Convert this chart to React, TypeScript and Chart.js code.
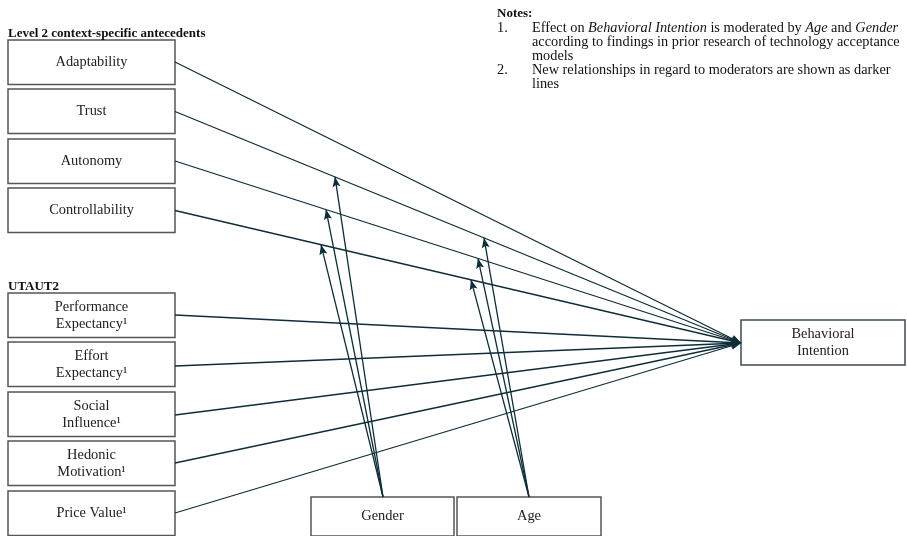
import React, { useEffect, useRef } from "react";
import { Chart, registerables } from "chart.js";

Chart.register(...registerables);

// ---- Content ----
const antecedentLabels: string[][] = [["Adaptability"], ["Trust"], ["Autonomy"], ["Controllability"]];
const utautLabels: string[][] = [
  ["Performance", "Expectancy¹"],
  ["Effort", "Expectancy¹"],
  ["Social", "Influence¹"],
  ["Hedonic", "Motivation¹"],
  ["Price Value¹"],
];
const outcomeLabel: string[] = ["Behavioral", "Intention"];
const moderatorLabels: string[] = ["Gender", "Age"];
const groupHeaders: string[] = ["Level 2 context-specific antecedents", "UTAUT2"];

// ---- Layout in diagram units (907 x 536 space, y downward) ----
const leftBoxX: number[] = [8, 175];
const antecedentTops: number[] = [40, 89, 139, 188];
const utautTops: number[] = [293, 342, 392, 441, 491];
const boxH = 44.5;
const antecedentLineY: number[] = [62, 111.5, 161, 210.5];
const utautLineY: number[] = [315, 366, 415, 463, 513];
const outcomeBox: number[] = [741, 320, 905, 365];
const outcomeTip: number[] = [741, 343];
const moderatorBoxX: number[][] = [[311, 454], [457, 601]];
const moderatorTop = 497;
const moderatorOrigins: number[][] = [[383, 497], [529, 497]];
// which antecedent paths are moderated, and x where arrows hit them
const moderatedPaths: number[] = [1, 2, 3];
const genderHitX: number[] = [335, 326, 321];
const ageHitX: number[] = [484, 478, 471];

const LINE = "#0e2d38";
const BOX = "#555555";
const FONT = "'Liberation Serif', 'Times New Roman', serif";

function pathY(i: number, x: number): number {
  const y0 = antecedentLineY[i];
  const x0 = leftBoxX[1];
  return y0 + ((x - x0) / (outcomeTip[0] - x0)) * (outcomeTip[1] - y0);
}

export default function App() {
  const ref = useRef<HTMLCanvasElement | null>(null);

  useEffect(() => {
    document.body.style.margin = "0";
    const canvas = ref.current;
    if (!canvas) return;

    const datasets: any[] = [];
    antecedentLineY.forEach((y) =>
      datasets.push({ data: [{ x: leftBoxX[1], y }, { x: outcomeTip[0], y: outcomeTip[1] }], arrow: true })
    );
    utautLineY.forEach((y) =>
      datasets.push({ data: [{ x: leftBoxX[1], y }, { x: outcomeTip[0], y: outcomeTip[1] }], arrow: true })
    );
    [genderHitX, ageHitX].forEach((hits, m) =>
      hits.forEach((hx, k) =>
        datasets.push({
          data: [
            { x: moderatorOrigins[m][0], y: moderatorOrigins[m][1] },
            { x: hx, y: pathY(moderatedPaths[k], hx) },
          ],
          arrow: true,
        })
      )
    );
    datasets.forEach((d) => {
      d.showLine = true;
      d.borderColor = LINE;
      d.borderWidth = 1.3;
      d.pointRadius = 0;
      d.clip = false;
    });

    const diagram = {
      id: "diagram",
      beforeDatasetsDraw(chart: any) {
        const ctx = chart.ctx;
        const xs = chart.scales.x;
        const ys = chart.scales.y;
        const px = (v: number) => xs.getPixelForValue(v);
        const py = (v: number) => ys.getPixelForValue(v);
        const box = (x0: number, y0: number, x1: number, y1: number, lines: string[], color = BOX) => {
          ctx.save();
          ctx.fillStyle = "#fff";
          ctx.strokeStyle = color;
          ctx.lineWidth = 1.5;
          ctx.fillRect(px(x0), py(y0), px(x1) - px(x0), py(y1) - py(y0));
          ctx.strokeRect(px(x0), py(y0), px(x1) - px(x0), py(y1) - py(y0));
          ctx.fillStyle = "#222";
          ctx.font = `14.4px ${FONT}`;
          ctx.textAlign = "center";
          ctx.textBaseline = "middle";
          const cx = (px(x0) + px(x1)) / 2;
          const cy = (py(y0) + py(y1)) / 2;
          const lh = 17;
          lines.forEach((t, i) => ctx.fillText(t, cx, cy + (i - (lines.length - 1) / 2) * lh));
          ctx.restore();
        };
        antecedentTops.forEach((t, i) => box(leftBoxX[0], t, leftBoxX[1], t + boxH, antecedentLabels[i]));
        utautTops.forEach((t, i) => box(leftBoxX[0], t, leftBoxX[1], t + boxH, utautLabels[i]));
        box(outcomeBox[0], outcomeBox[1], outcomeBox[2], outcomeBox[3], outcomeLabel, "#3d4a50");
        moderatorBoxX.forEach((mx, i) => box(mx[0], moderatorTop, mx[1], 536, [moderatorLabels[i]]));

        // headers
        ctx.save();
        ctx.fillStyle = "#111";
        ctx.font = `bold 13px ${FONT}`;
        ctx.textBaseline = "alphabetic";
        ctx.fillText(groupHeaders[0], px(8), py(37));
        ctx.fillText(groupHeaders[1], px(8), py(290));

        // notes
        ctx.fillText("Notes:", px(497), py(17));
        const fs = 14.3;
        const seg = (parts: [string, boolean][], x: number, y: number) => {
          let cx = px(x);
          parts.forEach(([t, it]) => {
            ctx.font = `${it ? "italic " : ""}${fs}px ${FONT}`;
            ctx.fillText(t, cx, py(y));
            cx += ctx.measureText(t).width;
          });
        };
        seg([["1.", false]], 497, 32);
        seg(
          [
            ["Effect on ", false],
            ["Behavioral Intention", true],
            [" is moderated by ", false],
            ["Age", true],
            [" and ", false],
            ["Gender", true],
          ],
          532,
          32
        );
        seg([["according to findings in prior research of technology acceptance", false]], 532, 46);
        seg([["models", false]], 532, 60);
        seg([["2.", false]], 497, 74);
        seg([["New relationships in regard to moderators are shown as darker", false]], 532, 74);
        seg([["lines", false]], 532, 88);
        ctx.restore();
      },
      afterDatasetsDraw(chart: any) {
        const ctx = chart.ctx;
        chart.data.datasets.forEach((d: any, i: number) => {
          if (!d.arrow) return;
          const pts = chart.getDatasetMeta(i).data;
          const a = pts[pts.length - 2];
          const b = pts[pts.length - 1];
          const ang = Math.atan2(b.y - a.y, b.x - a.x);
          const L = 10;
          const W = 4;
          ctx.save();
          ctx.fillStyle = LINE;
          ctx.translate(b.x, b.y);
          ctx.rotate(ang);
          ctx.beginPath();
          ctx.moveTo(0, 0);
          ctx.lineTo(-L, -W);
          ctx.lineTo(-L * 0.8, 0);
          ctx.lineTo(-L, W);
          ctx.closePath();
          ctx.fill();
          ctx.restore();
        });
      },
    };

    const chart = new Chart(canvas, {
      type: "scatter",
      data: { datasets },
      options: {
        animation: false,
        responsive: true,
        maintainAspectRatio: false,
        layout: { padding: 0 },
        plugins: { legend: { display: false }, tooltip: { enabled: false } },
        scales: {
          x: { type: "linear", min: 0, max: 907, display: false },
          y: { type: "linear", min: 0, max: 536, reverse: true, display: false },
        },
      },
      plugins: [diagram],
    });
    return () => chart.destroy();
  }, []);

  return (
    <div style={{ position: "absolute", left: 0, top: 0, width: 907, height: 536, background: "#fff" }}>
      <canvas ref={ref} />
    </div>
  );
}
